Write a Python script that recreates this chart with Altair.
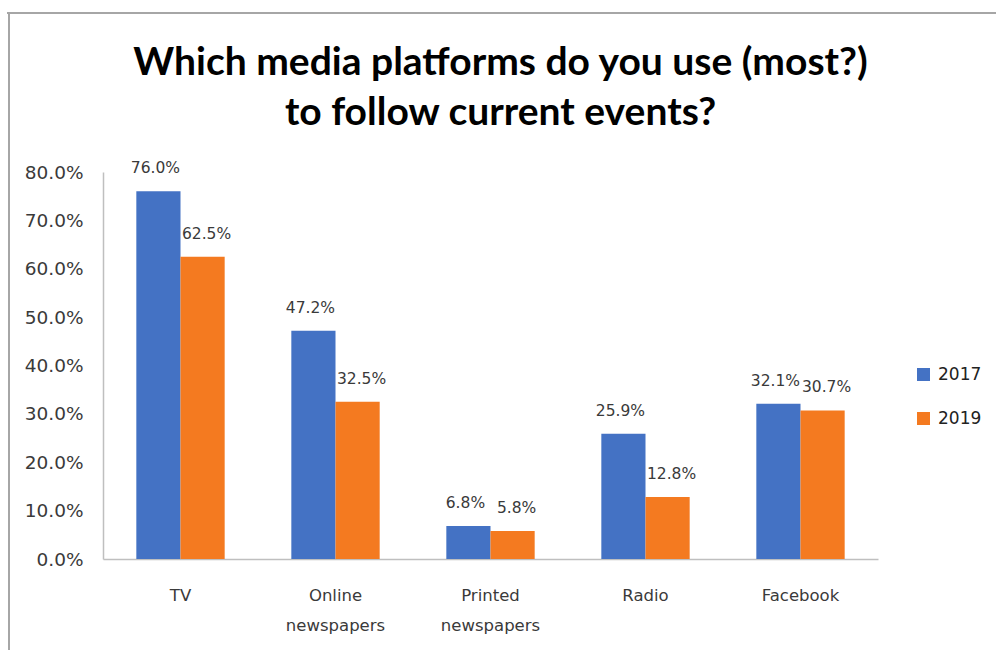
import altair as alt
import pandas as pd

categories = ["TV", "Online newspapers", "Printed newspapers", "Radio", "Facebook"]
years = ["2017", "2019"]
v2017 = [76.0, 47.2, 6.8, 25.9, 32.1]
v2019 = [62.5, 32.5, 5.8, 12.8, 30.7]
colors = ["#4472C4", "#F47A20"]

rows = []
for c, a, b in zip(categories, v2017, v2019):
    rows.append({"platform": c, "year": "2017", "value": a / 100})
    rows.append({"platform": c, "year": "2019", "value": b / 100})
df = pd.DataFrame(rows)

FONT = "DejaVu Sans"
TXT = "#3A3A3A"

x = alt.X("platform:N", sort=categories, title=None,
          scale=alt.Scale(paddingInner=0.43, paddingOuter=0.215),
          axis=alt.Axis(labelAngle=0, ticks=False, domainColor="#BFBFBF",
                        domainWidth=1.5, labelFontSize=16.5, labelFont=FONT,
                        labelColor=TXT, labelPadding=28, labelLineHeight=30,
                        labelExpr="split(datum.label, ' ')"))
y = alt.Y("value:Q", title=None,
          scale=alt.Scale(domain=[0, 0.8], nice=False),
          axis=alt.Axis(format=".1%", values=[i / 10 for i in range(9)],
                        labelOverlap=False,
                        grid=False, ticks=False, domainColor="#BFBFBF",
                        domainWidth=1.5, labelFontSize=18.5, labelFont=FONT,
                        labelColor=TXT, labelPadding=20))
color = alt.Color("year:N", sort=years,
                  scale=alt.Scale(domain=years, range=colors),
                  legend=alt.Legend(title=None, orient="none", legendX=812, legendY=194,
                                    symbolType="square", symbolSize=169,
                                    symbolStrokeWidth=0, labelFontSize=17,
                                    labelFont=FONT, labelColor="#222222",
                                    rowPadding=26, labelOffset=6))

bars = alt.Chart(df).mark_bar().encode(
    x=x, y=y, color=color,
    xOffset=alt.XOffset("year:N", sort=years),
)


def label_layer(year, shift):
    return alt.Chart(df).transform_filter(alt.datum.year == year).mark_text(
        dy=-23, dx=shift, fontSize=15.5, font=FONT, color=TXT
    ).encode(
        x=x, y=y,
        xOffset=alt.XOffset("year:N", sort=years, scale=alt.Scale(domain=years)),
        text=alt.Text("value:Q", format=".1%"),
    )


labels_a = label_layer("2017", -3)
labels_b = label_layer("2019", 4)

border_top = alt.Chart(df).mark_rule(color="#A6A6A6", strokeWidth=2, clip=False).encode(
    x=alt.value(-96), x2=alt.value(900), y=alt.value(-159)
)
border_left = alt.Chart(df).mark_rule(color="#A6A6A6", strokeWidth=2, clip=False).encode(
    x=alt.value(-94), y=alt.value(-160), y2=alt.value(480)
)

chart = alt.layer(bars, labels_a, labels_b, border_top, border_left).properties(
    width=775, height=387,
    padding={"left": 103, "top": 172, "right": 118, "bottom": 91},
    autosize=alt.AutoSizeParams(type="none"),
    title=alt.TitleParams(
        ["Which media platforms do you use (most?)", "to follow current events?"],
        fontSize=39, font="Lato", fontWeight="bold", color="#000000",
        anchor="middle", offset=-122, lineHeight=50, dx=10,
    ),
).configure(background="white", view=alt.ViewConfig(stroke=None))

chart.save("out.html", embed_options={"renderer": "svg", "actions": False})
